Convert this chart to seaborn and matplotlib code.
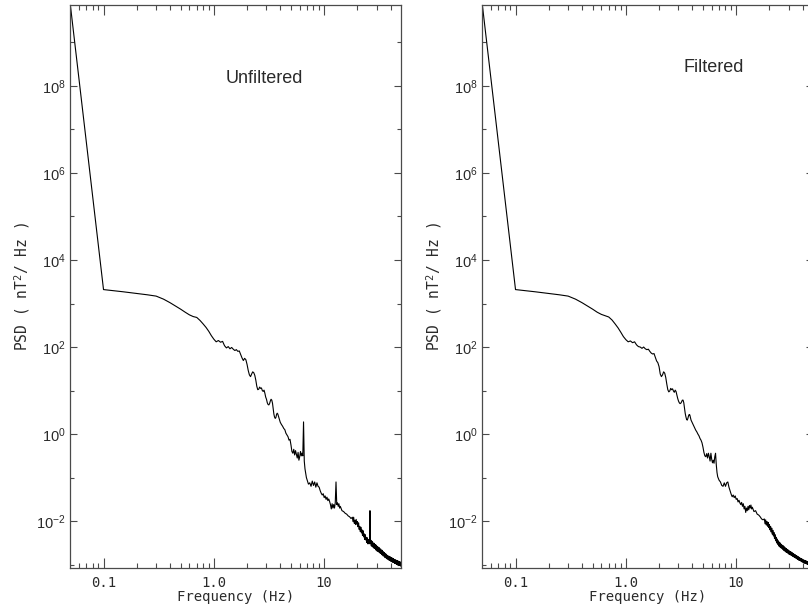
import numpy as np
import pandas as pd
import matplotlib
matplotlib.use("Agg")
import matplotlib.pyplot as plt
import seaborn as sns
from matplotlib.ticker import FixedLocator, FixedFormatter, FuncFormatter, NullFormatter

# ---------------------------------------------------------------------------
# Power spectral density of the magnetometer record (log10 of nT^2/Hz)
# ---------------------------------------------------------------------------
freq_low = [0.05, 0.10, 0.15, 0.20, 0.25, 0.30, 0.35, 0.40, 0.45, 0.50,
            0.55, 0.60, 0.65, 0.70, 0.75, 0.80, 0.85, 0.90, 0.95, 1.00,
            1.05, 1.10, 1.15, 1.20, 1.25, 1.30, 1.35, 1.40, 1.45, 1.50,
            1.55, 1.60, 1.65, 1.70, 1.75, 1.80, 1.85, 1.90, 1.95, 2.00,
            2.05, 2.10, 2.15, 2.20, 2.25, 2.30, 2.35, 2.40, 2.45, 2.50,
            2.55, 2.60, 2.65, 2.70, 2.75, 2.80, 2.85, 2.90, 2.95, 3.00,
            3.05, 3.10, 3.15, 3.20, 3.25, 3.30, 3.35, 3.40, 3.45, 3.50,
            3.55, 3.60, 3.65, 3.70, 3.75, 3.80, 3.85, 3.90, 3.95, 4.00,
            4.10, 4.20, 4.30, 4.40, 4.50, 4.60, 4.70, 4.80, 4.90, 5.00,
            5.10, 5.20, 5.30, 5.40, 5.50, 5.60, 5.70, 5.80, 5.90, 6.00,
            6.10, 6.20, 6.30, 6.40, 6.50, 6.60, 6.70, 6.80, 6.90, 7.00,
            7.20, 7.40, 7.60, 7.80, 8.00, 8.20, 8.40, 8.60, 8.80, 9.00,
            9.20, 9.40, 9.60, 9.80, 10.0, 10.2, 10.4, 10.6, 10.8, 11.0,
            11.2, 11.4, 11.6, 11.8, 12.0, 12.2, 12.4, 12.6, 12.8, 13.0,
            13.2, 13.4, 13.6, 13.8, 14.0, 14.5, 15.0, 15.5, 16.0, 16.5,
            17.0, 17.5]

# spectral bins of the high-frequency tail (0.25 Hz apart)
freq_tail = list(np.arange(18.0, 50.001, 0.25))

log_psd_unfiltered_low = [
    9.87, 3.32, 3.27, 3.23, 3.20, 3.17, 3.10, 3.02, 2.94, 2.87,
    2.80, 2.74, 2.70, 2.68, 2.61, 2.53, 2.45, 2.36, 2.26, 2.18,
    2.12, 2.15, 2.11, 2.13, 2.03, 1.98, 2.01, 1.96, 1.99, 1.95,
    1.92, 1.94, 1.90, 1.91, 1.83, 1.75, 1.69, 1.74, 1.71, 1.60,
    1.46, 1.36, 1.32, 1.38, 1.43, 1.41, 1.35, 1.24, 1.10, 1.02,
    1.03, 1.08, 1.05, 1.06, 1.00, 0.98, 1.01, 0.94, 0.85, 0.80,
    0.72, 0.68, 0.67, 0.70, 0.76, 0.80, 0.78, 0.71, 0.58, 0.46,
    0.39, 0.36, 0.38, 0.45, 0.48, 0.46, 0.41, 0.36, 0.31, 0.27,
    0.22, 0.18, 0.13, 0.10, 0.02, -0.02, -0.06, -0.14, -0.12, -0.25,
    -0.40, -0.44, -0.35, -0.48, -0.38, -0.47, -0.55, -0.42, -0.60, -0.52,
    -0.40, -0.50, -0.44, -0.50, 0.28, -0.62, -0.80, -0.90, -1.00, -1.05,
    -1.15, -1.12, -1.20, -1.08, -1.18, -1.10, -1.22, -1.12, -1.20, -1.22,
    -1.30, -1.36, -1.40, -1.37, -1.46, -1.42, -1.50, -1.45, -1.53, -1.49,
    -1.55, -1.62, -1.72, -1.60, -1.70, -1.62, -1.70, -1.58, -1.10, -1.62,
    -1.58, -1.66, -1.60, -1.70, -1.66, -1.76, -1.78, -1.82, -1.84, -1.88,
    -1.90, -1.94]

log_psd_unfiltered_tail = [
    -1.91, -2.01, -1.91, -2.05, -1.98, -2.08, -1.96, -2.07,   # 18.00-19.75
    -2.01, -2.13, -2.04, -2.19, -2.12, -2.24, -2.14, -2.27,   # 20.00-21.75
    -2.20, -2.33, -2.22, -2.36, -2.29, -2.42, -2.31, -2.43,   # 22.00-23.75
    -2.37, -2.49, -2.38, -2.52, -2.43, -2.52, -2.42, -2.52,   # 24.00-25.75
    -1.76, -2.52, -2.44, -2.57, -2.46, -2.58, -2.48, -2.60,   # 26.00-27.75
    -2.51, -2.62, -2.51, -2.63, -2.54, -2.66, -2.55, -2.66,   # 28.00-29.75
    -2.58, -2.69, -2.58, -2.69, -2.61, -2.71, -2.61, -2.72,   # 30.00-31.75
    -2.64, -2.74, -2.64, -2.74, -2.67, -2.77, -2.67, -2.77,   # 32.00-33.75
    -2.70, -2.80, -2.71, -2.80, -2.72, -2.82, -2.74, -2.84,   # 34.00-35.75
    -2.76, -2.84, -2.76, -2.85, -2.78, -2.87, -2.79, -2.87,   # 36.00-37.75
    -2.80, -2.89, -2.81, -2.89, -2.81, -2.90, -2.82, -2.91,   # 38.00-39.75
    -2.83, -2.92, -2.84, -2.93, -2.85, -2.93, -2.85, -2.94,   # 40.00-41.75
    -2.86, -2.95, -2.87, -2.95, -2.88, -2.96, -2.88, -2.97,   # 42.00-43.75
    -2.89, -2.97, -2.90, -2.98, -2.90, -2.99, -2.91, -2.99,   # 44.00-45.75
    -2.91, -3.00, -2.92, -3.00, -2.92, -3.01, -2.93, -3.01,   # 46.00-47.75
    -2.93, -3.02, -2.94, -3.02, -2.94, -3.03, -2.95, -3.03,   # 48.00-49.75
    -2.95]                                                    # 50.00

log_psd_filtered_low = [
    9.87, 3.32, 3.27, 3.23, 3.20, 3.17, 3.10, 3.02, 2.94, 2.87,
    2.80, 2.75, 2.72, 2.69, 2.62, 2.53, 2.44, 2.34, 2.24, 2.17,
    2.12, 2.14, 2.10, 2.12, 2.05, 2.01, 2.00, 1.97, 2.00, 1.96,
    1.94, 1.95, 1.90, 1.86, 1.84, 1.85, 1.76, 1.68, 1.64, 1.55,
    1.38, 1.32, 1.36, 1.43, 1.40, 1.30, 1.15, 1.02, 0.97, 0.99,
    1.05, 1.02, 1.04, 0.99, 0.96, 1.01, 0.98, 0.90, 0.82, 0.76,
    0.72, 0.70, 0.71, 0.74, 0.78, 0.78, 0.72, 0.60, 0.48, 0.40,
    0.34, 0.32, 0.36, 0.42, 0.45, 0.44, 0.38, 0.32, 0.29, 0.26,
    0.20, 0.14, 0.09, 0.05, 0.00, -0.04, -0.10, -0.14, -0.20, -0.30,
    -0.42, -0.50, -0.52, -0.45, -0.55, -0.44, -0.52, -0.62, -0.44, -0.58,
    -0.66, -0.60, -0.67, -0.52, -0.44, -0.70, -0.88, -0.98, -1.02, -1.06,
    -1.10, -1.18, -1.20, -1.12, -1.20, -1.12, -1.10, -1.22, -1.30, -1.38,
    -1.44, -1.40, -1.46, -1.42, -1.50, -1.48, -1.56, -1.52, -1.58, -1.62,
    -1.57, -1.66, -1.60, -1.72, -1.66, -1.80, -1.70, -1.76, -1.66, -1.74,
    -1.64, -1.70, -1.63, -1.72, -1.68, -1.78, -1.76, -1.84, -1.86, -1.90,
    -1.95, -1.97]

log_psd_filtered_tail = [
    -1.95, -2.06, -1.97, -2.09, -2.01, -2.12, -2.03, -2.15,   # 18.00-19.75
    -2.08, -2.20, -2.12, -2.25, -2.16, -2.30, -2.21, -2.34,   # 20.00-21.75
    -2.26, -2.40, -2.31, -2.45, -2.37, -2.50, -2.41, -2.53,   # 22.00-23.75
    -2.45, -2.57, -2.48, -2.59, -2.50, -2.61, -2.53, -2.62,   # 24.00-25.75
    -2.55, -2.64, -2.56, -2.66, -2.58, -2.68, -2.60, -2.69,   # 26.00-27.75
    -2.62, -2.71, -2.63, -2.72, -2.65, -2.73, -2.66, -2.75,   # 28.00-29.75
    -2.68, -2.76, -2.69, -2.77, -2.70, -2.78, -2.71, -2.79,   # 30.00-31.75
    -2.72, -2.80, -2.74, -2.81, -2.75, -2.82, -2.76, -2.83,   # 32.00-33.75
    -2.77, -2.84, -2.78, -2.85, -2.79, -2.86, -2.80, -2.87,   # 34.00-35.75
    -2.81, -2.88, -2.82, -2.89, -2.83, -2.90, -2.84, -2.90,   # 36.00-37.75
    -2.85, -2.91, -2.86, -2.92, -2.87, -2.93, -2.87, -2.94,   # 38.00-39.75
    -2.88, -2.94, -2.89, -2.95, -2.90, -2.96, -2.90, -2.96,   # 40.00-41.75
    -2.91, -2.97, -2.91, -2.97, -2.92, -2.98, -2.92, -2.98,   # 42.00-43.75
    -2.93, -2.99, -2.93, -2.99, -2.94, -3.00, -2.94, -3.00,   # 44.00-45.75
    -2.95, -3.01, -2.95, -3.01, -2.95, -3.01, -2.96, -3.02,   # 46.00-47.75
    -2.96, -3.02, -2.96, -3.02, -2.97, -3.03, -2.97, -3.03,   # 48.00-49.75
    -2.97]                                                    # 50.00

panel_titles = ["Unfiltered", "Filtered"]

x_major_ticks = [0.1, 1.0, 10.0]
x_major_labels = ["0.1", "1.0", "10"]
x_minor_ticks = [0.06, 0.07, 0.08, 0.09,
                 0.2, 0.3, 0.4, 0.5, 0.6, 0.7, 0.8, 0.9,
                 2, 3, 4, 5, 6, 7, 8, 9,
                 20, 30, 40]
y_major_ticks = [1e-2, 1e0, 1e2, 1e4, 1e6, 1e8]
y_minor_ticks = [1e-3, 1e-1, 1e1, 1e3, 1e5, 1e7, 1e9]

x_limits = (0.05, 50.0)
y_limits = (10 ** -3.07, 10 ** 9.87)


def spectrum_frame(log_low, log_tail):
    f = np.array(freq_low + freq_tail)
    p = 10.0 ** np.array(log_low + log_tail)
    return pd.DataFrame({"Frequency": f, "PSD": p})


frames = [
    spectrum_frame(log_psd_unfiltered_low, log_psd_unfiltered_tail),
    spectrum_frame(log_psd_filtered_low, log_psd_filtered_tail),
]

# ---------------------------------------------------------------------------
# Styling
# ---------------------------------------------------------------------------
sns.set_style("ticks")
plt.rcParams["font.family"] = ["DejaVu Sans Mono", "DejaVu Sans"]
plt.rcParams["mathtext.fontset"] = "custom"
plt.rcParams["mathtext.rm"] = "Liberation Sans"
plt.rcParams["mathtext.it"] = "Liberation Sans"
plt.rcParams["mathtext.sf"] = "Liberation Sans"
plt.rcParams["mathtext.tt"] = "DejaVu Sans Mono"

axis_grey = "#4a4a4a"
text_grey = "#2a2a2a"

W, H = 808, 613
fig = plt.figure(figsize=(W / 100, H / 100), dpi=100)
fig.patch.set_facecolor("white")

panel_left_px = [70.3, 482.3]
panel_width_px = 331.0
panel_top_px = 4.5
panel_bottom_px = 567.7

title_pos = [(0.470, 0.860), (0.607, 0.881)]


def decade_label(v, _pos):
    return r"$10^{%d}$" % int(round(np.log10(v)))


for i, df in enumerate(frames):
    left = panel_left_px[i] / W
    bottom = 1 - panel_bottom_px / H
    ax = fig.add_axes([left, bottom, panel_width_px / W,
                       (panel_bottom_px - panel_top_px) / H])
    ax.set_facecolor("white")

    sns.lineplot(data=df, x="Frequency", y="PSD", ax=ax, color="black",
                 lw=0.8, estimator=None, sort=False)
    ax.set_xscale("log")
    ax.set_yscale("log")
    ax.set_xlim(*x_limits)
    ax.set_ylim(*y_limits)

    ax.xaxis.set_major_locator(FixedLocator(x_major_ticks))
    ax.xaxis.set_major_formatter(FixedFormatter(x_major_labels))
    ax.xaxis.set_minor_locator(FixedLocator(x_minor_ticks))
    ax.xaxis.set_minor_formatter(NullFormatter())
    ax.yaxis.set_major_locator(FixedLocator(y_major_ticks))
    ax.yaxis.set_major_formatter(FuncFormatter(decade_label))
    ax.yaxis.set_minor_locator(FixedLocator(y_minor_ticks))
    ax.yaxis.set_minor_formatter(NullFormatter())

    for sp in ax.spines.values():
        sp.set_visible(True)
        sp.set_color(axis_grey)
        sp.set_linewidth(0.9)

    ax.tick_params(which="both", direction="in", top=True, right=True,
                   color=axis_grey, width=0.8, labelcolor=text_grey)
    ax.tick_params(axis="x", which="major", length=7.2, pad=6, labelsize=10)
    ax.tick_params(axis="x", which="minor", length=3.6)
    ax.tick_params(axis="y", which="major", length=5.0, pad=3.5, labelsize=10.5)
    ax.tick_params(axis="y", which="minor", length=2.6)

    ax.set_xlabel("Frequency (Hz)", fontsize=10, color=text_grey)
    ax.set_ylabel(r"PSD ( nT$^{\mathtt{2}}$/ Hz )", fontsize=10.5, color=text_grey)
    ax.xaxis.set_label_coords(0.5, -0.040)
    ax.yaxis.set_label_coords(-0.117, 0.5)

    ax.text(title_pos[i][0], title_pos[i][1], panel_titles[i],
            transform=ax.transAxes, fontsize=13, color=text_grey,
            family="Liberation Sans", ha="left", va="baseline")

fig.savefig("out.png", dpi=100, facecolor="white")
